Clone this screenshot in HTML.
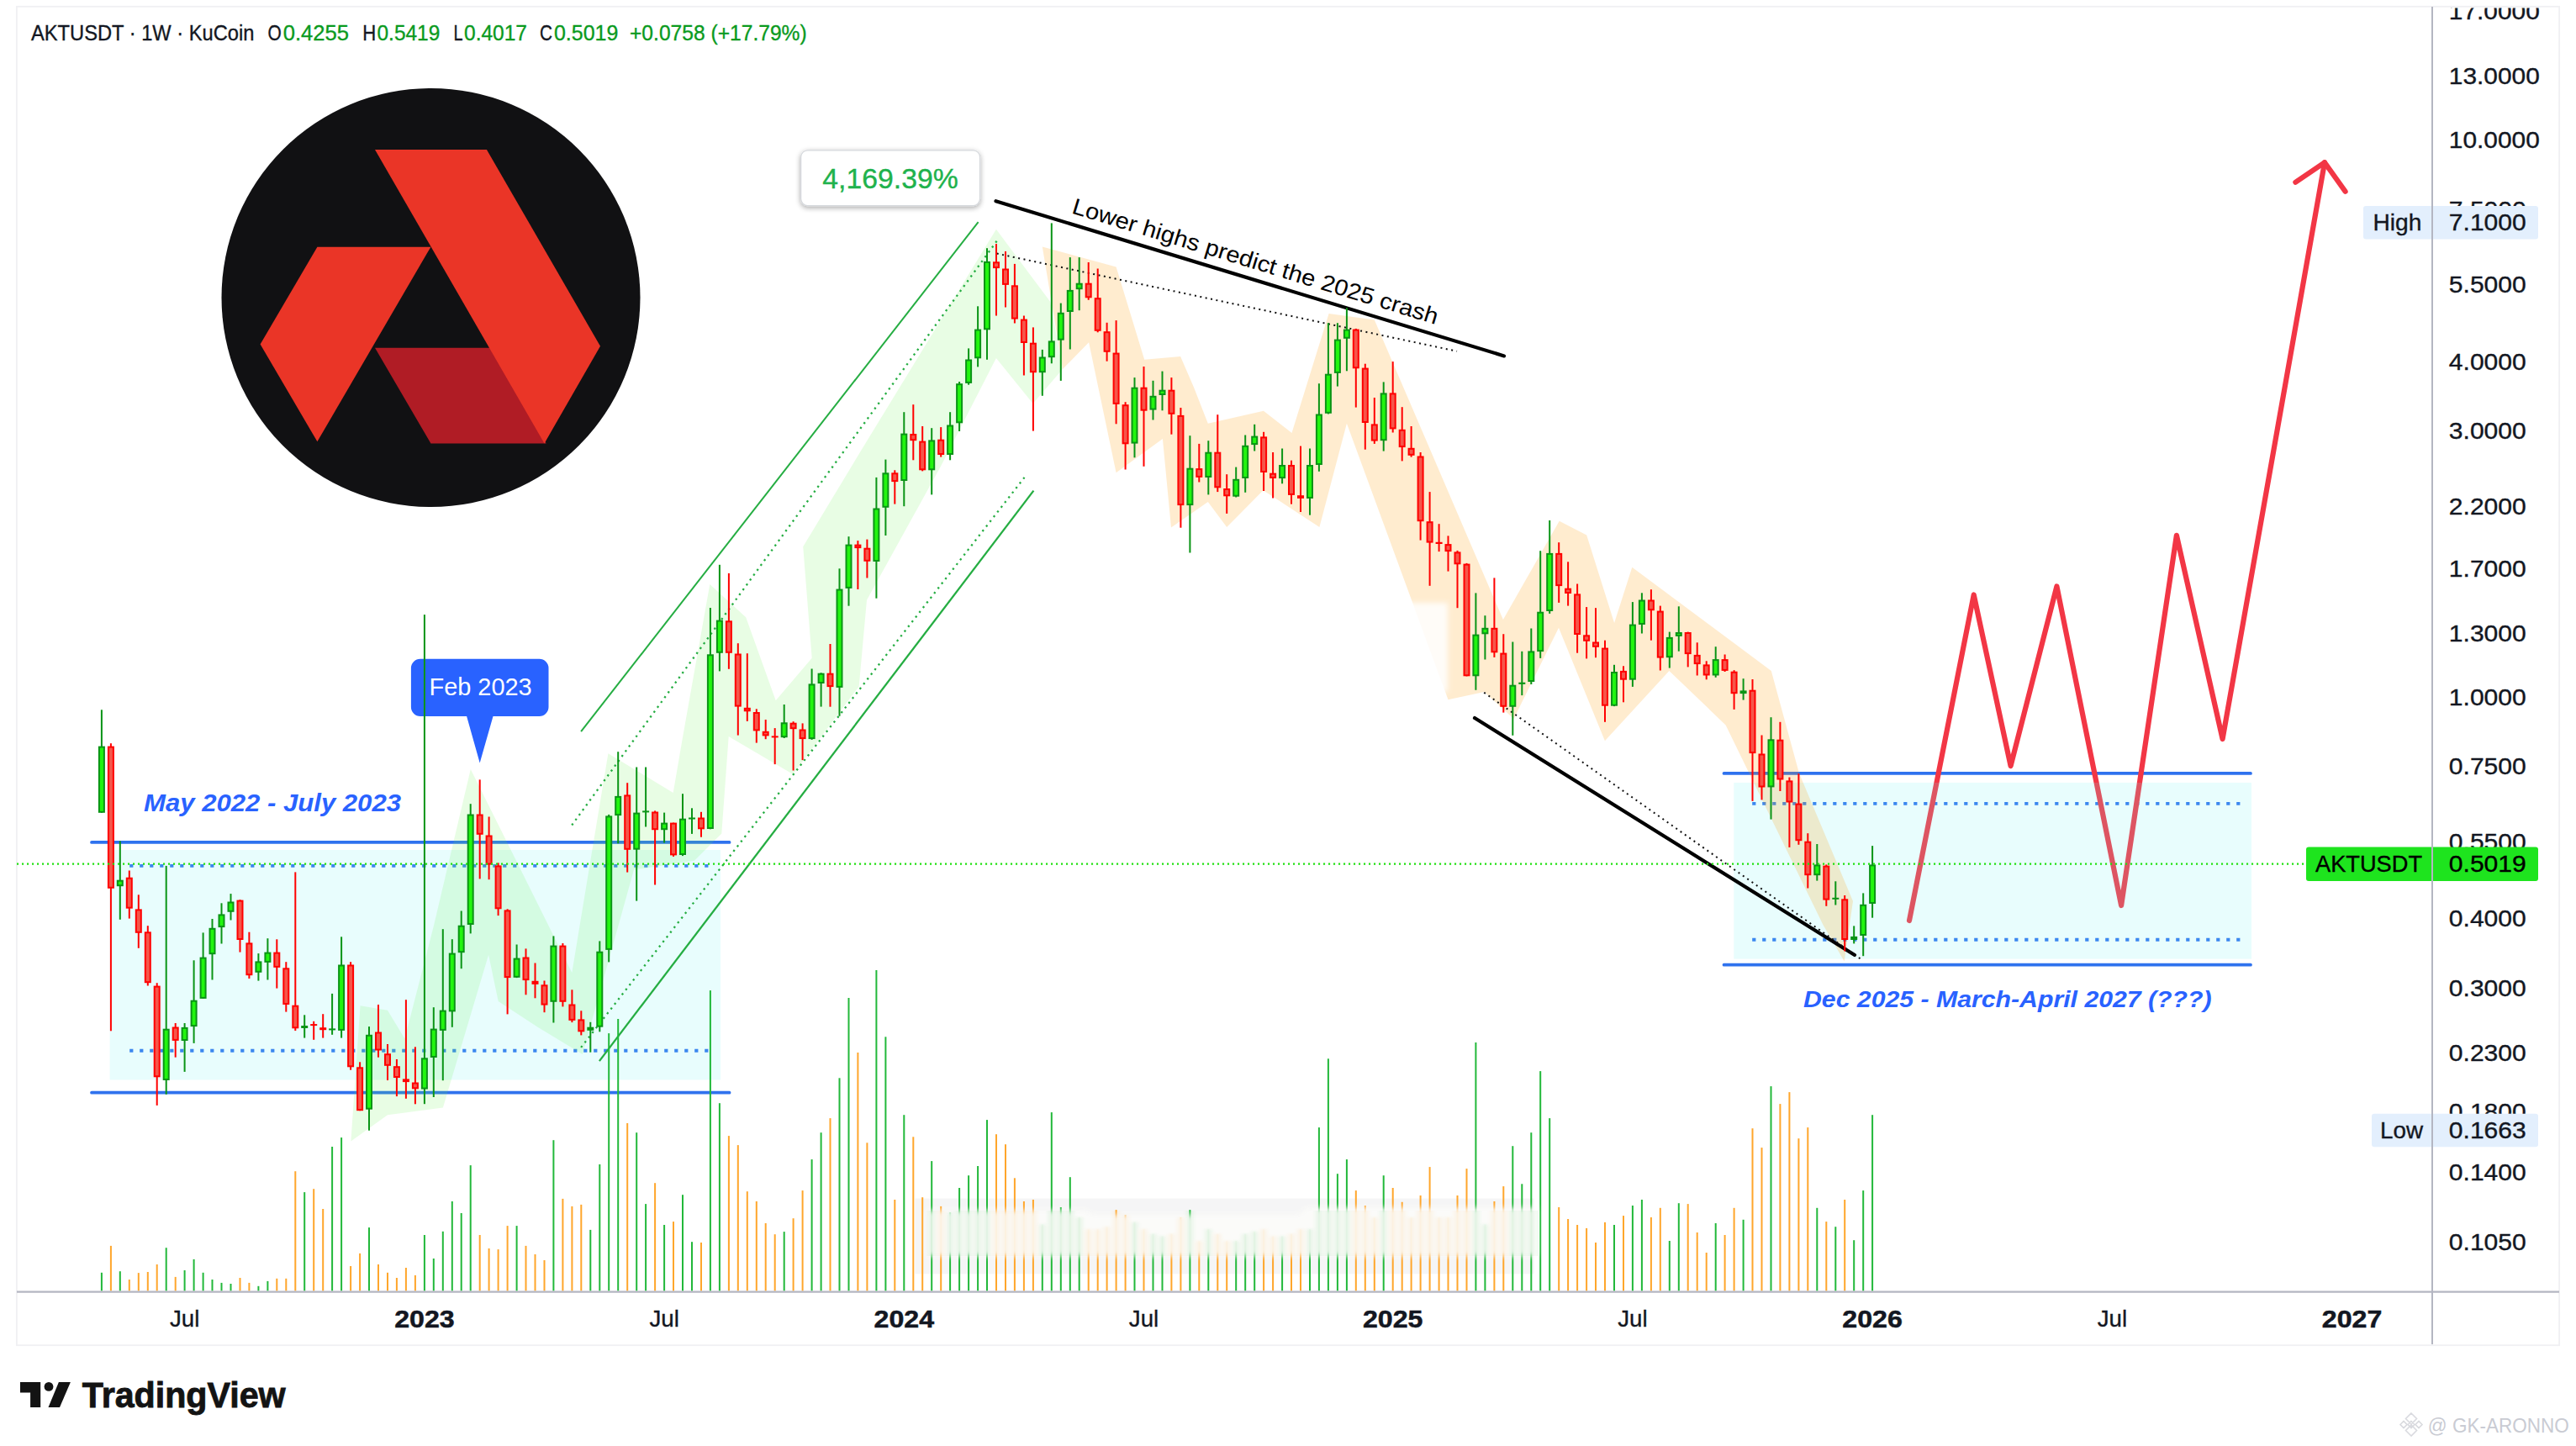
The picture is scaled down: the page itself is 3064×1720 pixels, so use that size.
<!DOCTYPE html>
<html lang="en"><head><meta charset="utf-8"><title>AKTUSDT 1W KuCoin chart</title>
<style>html,body{margin:0;padding:0;background:#fff;}body{width:3064px;height:1720px;overflow:hidden;}svg{display:block;font-family:"Liberation Sans", sans-serif;}</style>
</head><body>
<svg width="3064" height="1720" viewBox="0 0 3064 1720">
<defs><filter id="sh" x="-10%" y="-20%" width="120%" height="150%"><feGaussianBlur in="SourceAlpha" stdDeviation="3"/><feOffset dy="2"/><feComponentTransfer><feFuncA type="linear" slope="0.35"/></feComponentTransfer><feMerge><feMergeNode/><feMergeNode in="SourceGraphic"/></feMerge></filter>
<filter id="blur"><feGaussianBlur stdDeviation="3 1.5"/></filter>
<filter id="blur3" x="-30%" y="-20%" width="160%" height="140%"><feGaussianBlur stdDeviation="3"/></filter>
<filter id="blur2" x="-20%" y="-20%" width="140%" height="140%"><feGaussianBlur stdDeviation="4"/></filter>
<clipPath id="smc"><rect x="1100" y="1440" width="730" height="54"/></clipPath>
</defs>
<rect width="3064" height="1720" fill="#fff"/>
<rect x="19.9" y="7.8" width="3024.2" height="1592.4" fill="none" stroke="#f0f0f3" stroke-width="1.8"/>
<rect x="1088.4" y="1425.6" width="736.3" height="89.6" fill="#f5f5f6"/>
<line x1="109.0" y1="1001.9" x2="867.6" y2="1001.9" stroke="#2f72ee" stroke-width="3.7" stroke-linecap="round"/>
<line x1="109.0" y1="1299.7" x2="867.6" y2="1299.7" stroke="#2f72ee" stroke-width="3.7" stroke-linecap="round"/>
<line x1="2050.5" y1="919.9" x2="2677.0" y2="919.9" stroke="#2f72ee" stroke-width="3.7" stroke-linecap="round"/>
<line x1="2050.5" y1="1147.7" x2="2677.0" y2="1147.7" stroke="#2f72ee" stroke-width="3.7" stroke-linecap="round"/>
<line x1="154.2" y1="1029.9" x2="843.0" y2="1029.9" stroke="#2f72ee" stroke-width="3.9" stroke-dasharray="4.2 7.8"/>
<line x1="154.2" y1="1249.8" x2="843.0" y2="1249.8" stroke="#2f72ee" stroke-width="3.9" stroke-dasharray="4.2 7.8"/>
<line x1="2084.2" y1="955.9" x2="2666.0" y2="955.9" stroke="#2f72ee" stroke-width="3.9" stroke-dasharray="4.2 7.8"/>
<line x1="2084.2" y1="1117.8" x2="2666.0" y2="1117.8" stroke="#2f72ee" stroke-width="3.9" stroke-dasharray="4.2 7.8"/>
<polyline points="2271.0,1095.0 2347.7,707.5 2391.6,911.1 2446.4,697.4 2523.1,1077.0 2588.9,636.8 2643.6,879.0 2765.0,193.2" fill="none" stroke="#f23645" stroke-width="6.2" stroke-linejoin="round" stroke-linecap="round"/>
<polyline points="2730.4,216.7 2765.0,193.2 2789.6,227.8" fill="none" stroke="#f23645" stroke-width="6.2" stroke-linejoin="round" stroke-linecap="round"/>
<rect x="130.6" y="1011" width="726.4" height="273.5" fill="rgba(120,243,243,0.17)"/>
<rect x="2062.3" y="931" width="615.7" height="209.6" fill="rgba(120,243,243,0.17)"/>
<polygon points="428.5,1196.3 461.0,1201.7 481.4,1235.6 516.2,1100.0 559.8,914.9 680.3,1156.9 723.4,896.2 800.7,942.9 811.5,880.0 844.3,695.0 887.2,734.2 922.7,833.2 965.7,782.8 955.2,650.2 1021.7,540.0 1184.9,272.8 1249.1,358.7 1264.0,439.0 1228.6,480.0 1184.9,426.0 1118.8,555.0 1031.0,713.7 1021.7,816.4 943.2,921.0 866.7,876.1 858.3,991.5 825.9,1023.8 754.0,1034.6 692.9,1254.0 640.0,1222.0 592.7,1191.0 581.1,1135.8 526.9,1317.5 461.0,1326.2 417.4,1357.6" fill="rgba(100,240,75,0.15)"/>
<polygon points="1239.8,293.4 1327.6,317.6 1361.2,427.8 1404.1,424.1 1420.0,460.7 1436.8,503.7 1502.9,488.7 1536.5,514.9 1580.6,373.0 1634.8,380.4 1787.9,737.1 1854.7,619.8 1887.2,636.6 1920.1,741.1 1941.3,674.7 2106.8,797.9 2139.9,919.5 2204.0,1071.9 2193.7,1143.6 2168.4,1100.0 2052.6,862.5 1985.4,797.9 1908.9,881.2 1854.0,746.7 1800.5,855.0 1765.5,823.0 1722.5,832.3 1601.9,503.7 1569.4,626.9 1502.5,583.2 1459.2,626.9 1436.8,597.0 1393.0,627.5 1382.9,522.1 1327.6,562.3 1295.1,407.3 1264.0,439.0" fill="rgba(255,152,0,0.19)"/>
<rect x="1650" y="717" width="72" height="106" fill="#fff" opacity="0.86" filter="url(#blur3)"/>
<line x1="691.1" y1="870.2" x2="1163.6" y2="264.2" stroke="#25ad42" stroke-width="2.0" />
<line x1="712.9" y1="1262.1" x2="1229.4" y2="583.6" stroke="#25ad42" stroke-width="2.3" />
<line x1="680.2" y1="981.5" x2="1185.7" y2="286.6" stroke="#25ad42" stroke-width="2.3" stroke-dasharray="2.3 4.9"/>
<line x1="691.1" y1="1245.9" x2="1218.5" y2="567.9" stroke="#25ad42" stroke-width="2.3" stroke-dasharray="2.3 4.9"/>
<line x1="1184.5" y1="239.2" x2="1789.0" y2="423.4" stroke="#000" stroke-width="4.2" stroke-linecap="round"/>
<line x1="1185.7" y1="301.6" x2="1733.0" y2="417.8" stroke="#111" stroke-width="2.0" stroke-dasharray="2 4.5"/>
<line x1="1754.0" y1="854.0" x2="2206.0" y2="1136.0" stroke="#000" stroke-width="4.2" stroke-linecap="round"/>
<line x1="1765.2" y1="823.7" x2="2215.0" y2="1142.0" stroke="#111" stroke-width="2.0" stroke-dasharray="2 4.5"/>
<path d="M499.9,783.8 H641.5 a11,11 0 0 1 11,11 V840.9 a11,11 0 0 1 -11,11 H586.5 L570.7,907.6 L555.1,851.9 H499.9 a11,11 0 0 1 -11,-11 V794.8 a11,11 0 0 1 11,-11 Z" fill="#2962ff"/>
<text x="510.5" y="826.7" font-size="28.6" fill="#fff" textLength="122.2" lengthAdjust="spacingAndGlyphs" >Feb 2023</text>
<g><rect x="119.9" y="844.3" width="2" height="122.5" fill="#0a9416"/><rect x="117.9" y="888.6" width="6" height="77.2" fill="#22f50f" stroke="#0a9416" stroke-width="2"/><rect x="130.9" y="884.2" width="2" height="342.1" fill="#ff0000"/><rect x="128.9" y="888.6" width="6" height="167.2" fill="#f5564a" stroke="#ff0000" stroke-width="2"/><rect x="141.8" y="1000.4" width="2" height="93.4" fill="#0a9416"/><rect x="139.8" y="1047.7" width="6" height="5.5" fill="#22f50f" stroke="#0a9416" stroke-width="2"/><rect x="152.8" y="1035.5" width="2" height="57.1" fill="#ff0000"/><rect x="150.8" y="1044.7" width="6" height="35.0" fill="#f5564a" stroke="#ff0000" stroke-width="2"/><rect x="163.8" y="1064.3" width="2" height="63.5" fill="#ff0000"/><rect x="161.8" y="1082.4" width="6" height="26.4" fill="#f5564a" stroke="#ff0000" stroke-width="2"/><rect x="174.8" y="1101.2" width="2" height="71.3" fill="#ff0000"/><rect x="172.8" y="1109.3" width="6" height="58.9" fill="#f5564a" stroke="#ff0000" stroke-width="2"/><rect x="185.7" y="1169.2" width="2" height="145.7" fill="#ff0000"/><rect x="183.7" y="1173.6" width="6" height="106.7" fill="#f5564a" stroke="#ff0000" stroke-width="2"/><rect x="196.7" y="1029.9" width="2" height="271.9" fill="#0a9416"/><rect x="194.7" y="1224.7" width="6" height="59.3" fill="#22f50f" stroke="#0a9416" stroke-width="2"/><rect x="207.7" y="1217.0" width="2" height="40.7" fill="#ff0000"/><rect x="205.7" y="1222.5" width="6" height="14.4" fill="#f5564a" stroke="#ff0000" stroke-width="2"/><rect x="218.6" y="1217.0" width="2" height="57.9" fill="#0a9416"/><rect x="216.6" y="1222.9" width="6" height="14.1" fill="#22f50f" stroke="#0a9416" stroke-width="2"/><rect x="229.6" y="1142.3" width="2" height="98.6" fill="#0a9416"/><rect x="227.6" y="1190.7" width="6" height="29.4" fill="#22f50f" stroke="#0a9416" stroke-width="2"/><rect x="240.6" y="1109.4" width="2" height="78.4" fill="#0a9416"/><rect x="238.6" y="1139.6" width="6" height="47.3" fill="#22f50f" stroke="#0a9416" stroke-width="2"/><rect x="251.5" y="1093.0" width="2" height="72.5" fill="#0a9416"/><rect x="249.5" y="1104.8" width="6" height="29.4" fill="#22f50f" stroke="#0a9416" stroke-width="2"/><rect x="262.5" y="1074.3" width="2" height="48.2" fill="#0a9416"/><rect x="260.5" y="1088.4" width="6" height="13.7" fill="#22f50f" stroke="#0a9416" stroke-width="2"/><rect x="273.5" y="1063.1" width="2" height="31.4" fill="#0a9416"/><rect x="271.5" y="1073.5" width="6" height="10.3" fill="#22f50f" stroke="#0a9416" stroke-width="2"/><rect x="284.5" y="1070.2" width="2" height="62.4" fill="#ff0000"/><rect x="282.5" y="1071.6" width="6" height="45.4" fill="#f5564a" stroke="#ff0000" stroke-width="2"/><rect x="295.4" y="1108.7" width="2" height="55.3" fill="#ff0000"/><rect x="293.4" y="1122.4" width="6" height="36.8" fill="#f5564a" stroke="#ff0000" stroke-width="2"/><rect x="306.4" y="1134.1" width="2" height="32.5" fill="#0a9416"/><rect x="304.4" y="1144.4" width="6" height="11.4" fill="#22f50f" stroke="#0a9416" stroke-width="2"/><rect x="317.4" y="1116.2" width="2" height="49.3" fill="#0a9416"/><rect x="315.4" y="1133.6" width="6" height="10.3" fill="#22f50f" stroke="#0a9416" stroke-width="2"/><rect x="328.3" y="1117.3" width="2" height="58.3" fill="#ff0000"/><rect x="326.3" y="1133.6" width="6" height="16.3" fill="#f5564a" stroke="#ff0000" stroke-width="2"/><rect x="339.3" y="1144.2" width="2" height="59.4" fill="#ff0000"/><rect x="337.3" y="1152.3" width="6" height="41.7" fill="#f5564a" stroke="#ff0000" stroke-width="2"/><rect x="350.3" y="1037.4" width="2" height="188.6" fill="#ff0000"/><rect x="348.3" y="1196.7" width="6" height="25.6" fill="#f5564a" stroke="#ff0000" stroke-width="2"/><rect x="361.2" y="1207.3" width="2" height="27.3" fill="#0a9416"/><rect x="358.2" y="1220.0" width="8" height="3.0" fill="#0a9416"/><rect x="372.2" y="1214.8" width="2" height="22.0" fill="#ff0000"/><rect x="369.2" y="1218.1" width="8" height="2.0" fill="#ff0000"/><rect x="383.2" y="1206.2" width="2" height="28.4" fill="#ff0000"/><rect x="380.2" y="1222.2" width="8" height="3.0" fill="#ff0000"/><rect x="394.1" y="1181.9" width="2" height="48.9" fill="#0a9416"/><rect x="391.1" y="1223.4" width="8" height="2.0" fill="#0a9416"/><rect x="405.1" y="1114.3" width="2" height="120.3" fill="#0a9416"/><rect x="403.1" y="1148.5" width="6" height="76.4" fill="#22f50f" stroke="#0a9416" stroke-width="2"/><rect x="416.1" y="1144.2" width="2" height="128.5" fill="#ff0000"/><rect x="414.1" y="1148.5" width="6" height="119.8" fill="#f5564a" stroke="#ff0000" stroke-width="2"/><rect x="427.1" y="1263.3" width="2" height="57.9" fill="#ff0000"/><rect x="425.1" y="1270.3" width="6" height="49.9" fill="#f5564a" stroke="#ff0000" stroke-width="2"/><rect x="438.0" y="1221.1" width="2" height="123.6" fill="#0a9416"/><rect x="436.0" y="1231.8" width="6" height="86.9" fill="#22f50f" stroke="#0a9416" stroke-width="2"/><rect x="449.0" y="1195.0" width="2" height="62.7" fill="#ff0000"/><rect x="447.0" y="1228.5" width="6" height="20.0" fill="#f5564a" stroke="#ff0000" stroke-width="2"/><rect x="460.0" y="1242.0" width="2" height="43.0" fill="#ff0000"/><rect x="458.0" y="1254.2" width="6" height="12.6" fill="#f5564a" stroke="#ff0000" stroke-width="2"/><rect x="470.9" y="1260.0" width="2" height="44.1" fill="#ff0000"/><rect x="468.9" y="1269.2" width="6" height="11.8" fill="#f5564a" stroke="#ff0000" stroke-width="2"/><rect x="481.9" y="1189.2" width="2" height="117.6" fill="#ff0000"/><rect x="478.9" y="1283.4" width="8" height="3.7" fill="#ff0000"/><rect x="492.9" y="1245.3" width="2" height="68.0" fill="#ff0000"/><rect x="490.9" y="1288.5" width="6" height="5.8" fill="#f5564a" stroke="#ff0000" stroke-width="2"/><rect x="503.9" y="731.1" width="2" height="582.1" fill="#0a9416"/><rect x="501.9" y="1259.3" width="6" height="35.3" fill="#22f50f" stroke="#0a9416" stroke-width="2"/><rect x="514.8" y="1198.2" width="2" height="106.8" fill="#0a9416"/><rect x="512.8" y="1224.6" width="6" height="32.4" fill="#22f50f" stroke="#0a9416" stroke-width="2"/><rect x="525.8" y="1105.2" width="2" height="180.0" fill="#0a9416"/><rect x="523.8" y="1202.6" width="6" height="22.3" fill="#22f50f" stroke="#0a9416" stroke-width="2"/><rect x="536.8" y="1117.2" width="2" height="104.6" fill="#0a9416"/><rect x="534.8" y="1134.6" width="6" height="67.8" fill="#22f50f" stroke="#0a9416" stroke-width="2"/><rect x="547.7" y="1083.5" width="2" height="68.7" fill="#0a9416"/><rect x="545.7" y="1101.7" width="6" height="30.5" fill="#22f50f" stroke="#0a9416" stroke-width="2"/><rect x="558.7" y="956.2" width="2" height="154.2" fill="#0a9416"/><rect x="556.7" y="969.5" width="6" height="129.5" fill="#22f50f" stroke="#0a9416" stroke-width="2"/><rect x="569.7" y="927.4" width="2" height="118.0" fill="#ff0000"/><rect x="567.7" y="969.5" width="6" height="22.3" fill="#f5564a" stroke="#ff0000" stroke-width="2"/><rect x="580.6" y="971.5" width="2" height="74.7" fill="#ff0000"/><rect x="578.6" y="994.5" width="6" height="33.1" fill="#f5564a" stroke="#ff0000" stroke-width="2"/><rect x="591.6" y="1026.4" width="2" height="62.7" fill="#ff0000"/><rect x="589.6" y="1030.4" width="6" height="49.9" fill="#f5564a" stroke="#ff0000" stroke-width="2"/><rect x="602.6" y="1081.3" width="2" height="125.1" fill="#ff0000"/><rect x="600.6" y="1083.4" width="6" height="78.7" fill="#f5564a" stroke="#ff0000" stroke-width="2"/><rect x="613.6" y="1123.5" width="2" height="39.6" fill="#0a9416"/><rect x="611.6" y="1140.6" width="6" height="21.2" fill="#22f50f" stroke="#0a9416" stroke-width="2"/><rect x="624.5" y="1128.4" width="2" height="54.9" fill="#ff0000"/><rect x="622.5" y="1139.5" width="6" height="25.6" fill="#f5564a" stroke="#ff0000" stroke-width="2"/><rect x="635.5" y="1145.5" width="2" height="41.8" fill="#ff0000"/><rect x="632.5" y="1166.8" width="8" height="4.1" fill="#ff0000"/><rect x="646.5" y="1166.5" width="2" height="37.7" fill="#ff0000"/><rect x="644.5" y="1172.3" width="6" height="22.3" fill="#f5564a" stroke="#ff0000" stroke-width="2"/><rect x="657.4" y="1113.4" width="2" height="103.1" fill="#0a9416"/><rect x="655.4" y="1125.6" width="6" height="65.2" fill="#22f50f" stroke="#0a9416" stroke-width="2"/><rect x="668.4" y="1122.0" width="2" height="75.4" fill="#ff0000"/><rect x="666.4" y="1125.6" width="6" height="65.2" fill="#f5564a" stroke="#ff0000" stroke-width="2"/><rect x="679.4" y="1177.3" width="2" height="38.8" fill="#ff0000"/><rect x="677.4" y="1195.5" width="6" height="17.4" fill="#f5564a" stroke="#ff0000" stroke-width="2"/><rect x="690.3" y="1202.3" width="2" height="29.1" fill="#ff0000"/><rect x="688.3" y="1213.4" width="6" height="12.9" fill="#f5564a" stroke="#ff0000" stroke-width="2"/><rect x="701.3" y="1215.8" width="2" height="35.9" fill="#0a9416"/><rect x="698.3" y="1221.7" width="8" height="4.1" fill="#0a9416"/><rect x="712.3" y="1119.4" width="2" height="107.9" fill="#0a9416"/><rect x="710.3" y="1132.7" width="6" height="88.0" fill="#22f50f" stroke="#0a9416" stroke-width="2"/><rect x="723.2" y="968.9" width="2" height="175.5" fill="#0a9416"/><rect x="721.2" y="971.4" width="6" height="157.5" fill="#22f50f" stroke="#0a9416" stroke-width="2"/><rect x="734.2" y="894.2" width="2" height="109.1" fill="#0a9416"/><rect x="732.2" y="947.9" width="6" height="21.2" fill="#22f50f" stroke="#0a9416" stroke-width="2"/><rect x="745.2" y="931.2" width="2" height="106.4" fill="#ff0000"/><rect x="743.2" y="946.4" width="6" height="63.4" fill="#f5564a" stroke="#ff0000" stroke-width="2"/><rect x="756.2" y="912.5" width="2" height="159.1" fill="#0a9416"/><rect x="754.2" y="967.6" width="6" height="42.1" fill="#22f50f" stroke="#0a9416" stroke-width="2"/><rect x="767.1" y="912.5" width="2" height="71.0" fill="#0a9416"/><rect x="764.1" y="964.4" width="8" height="2.0" fill="#0a9416"/><rect x="778.1" y="964.4" width="2" height="88.1" fill="#ff0000"/><rect x="776.1" y="966.5" width="6" height="19.7" fill="#f5564a" stroke="#ff0000" stroke-width="2"/><rect x="789.1" y="966.6" width="2" height="35.9" fill="#0a9416"/><rect x="787.1" y="979.6" width="6" height="6.6" fill="#22f50f" stroke="#0a9416" stroke-width="2"/><rect x="800.0" y="978.6" width="2" height="40.3" fill="#ff0000"/><rect x="798.0" y="979.6" width="6" height="36.8" fill="#f5564a" stroke="#ff0000" stroke-width="2"/><rect x="811.0" y="944.2" width="2" height="73.9" fill="#0a9416"/><rect x="809.0" y="974.7" width="6" height="41.3" fill="#22f50f" stroke="#0a9416" stroke-width="2"/><rect x="822.0" y="961.3" width="2" height="30.6" fill="#0a9416"/><rect x="819.0" y="972.5" width="8" height="2.0" fill="#0a9416"/><rect x="833.0" y="965.8" width="2" height="29.9" fill="#ff0000"/><rect x="831.0" y="973.5" width="6" height="11.8" fill="#f5564a" stroke="#ff0000" stroke-width="2"/><rect x="843.9" y="723.0" width="2" height="263.3" fill="#0a9416"/><rect x="841.9" y="779.3" width="6" height="205.7" fill="#22f50f" stroke="#0a9416" stroke-width="2"/><rect x="854.9" y="671.8" width="2" height="126.6" fill="#0a9416"/><rect x="852.9" y="738.6" width="6" height="37.2" fill="#22f50f" stroke="#0a9416" stroke-width="2"/><rect x="865.9" y="681.9" width="2" height="113.9" fill="#ff0000"/><rect x="863.9" y="739.3" width="6" height="36.5" fill="#f5564a" stroke="#ff0000" stroke-width="2"/><rect x="876.8" y="765.2" width="2" height="109.4" fill="#ff0000"/><rect x="874.8" y="778.5" width="6" height="61.1" fill="#f5564a" stroke="#ff0000" stroke-width="2"/><rect x="887.8" y="777.2" width="2" height="80.7" fill="#ff0000"/><rect x="885.8" y="842.8" width="6" height="2.5" fill="#f5564a" stroke="#ff0000" stroke-width="2"/><rect x="898.8" y="843.3" width="2" height="40.3" fill="#ff0000"/><rect x="896.8" y="848.0" width="6" height="20.4" fill="#f5564a" stroke="#ff0000" stroke-width="2"/><rect x="909.7" y="856.0" width="2" height="23.2" fill="#ff0000"/><rect x="907.7" y="870.8" width="6" height="3.6" fill="#f5564a" stroke="#ff0000" stroke-width="2"/><rect x="920.7" y="866.1" width="2" height="43.0" fill="#ff0000"/><rect x="917.7" y="875.4" width="8" height="2.0" fill="#ff0000"/><rect x="931.7" y="838.0" width="2" height="40.0" fill="#0a9416"/><rect x="929.7" y="860.3" width="6" height="15.9" fill="#22f50f" stroke="#0a9416" stroke-width="2"/><rect x="942.6" y="858.2" width="2" height="58.3" fill="#ff0000"/><rect x="940.6" y="860.7" width="6" height="5.5" fill="#f5564a" stroke="#ff0000" stroke-width="2"/><rect x="953.6" y="860.4" width="2" height="43.7" fill="#ff0000"/><rect x="951.6" y="868.5" width="6" height="9.6" fill="#f5564a" stroke="#ff0000" stroke-width="2"/><rect x="964.6" y="795.5" width="2" height="84.4" fill="#0a9416"/><rect x="962.6" y="814.4" width="6" height="63.7" fill="#22f50f" stroke="#0a9416" stroke-width="2"/><rect x="975.6" y="800.3" width="2" height="40.3" fill="#0a9416"/><rect x="973.6" y="801.7" width="6" height="10.3" fill="#22f50f" stroke="#0a9416" stroke-width="2"/><rect x="986.5" y="766.0" width="2" height="74.7" fill="#ff0000"/><rect x="984.5" y="801.7" width="6" height="14.4" fill="#f5564a" stroke="#ff0000" stroke-width="2"/><rect x="997.5" y="676.3" width="2" height="175.5" fill="#0a9416"/><rect x="995.5" y="701.6" width="6" height="115.3" fill="#22f50f" stroke="#0a9416" stroke-width="2"/><rect x="1008.5" y="638.2" width="2" height="82.5" fill="#0a9416"/><rect x="1006.5" y="648.6" width="6" height="50.3" fill="#22f50f" stroke="#0a9416" stroke-width="2"/><rect x="1019.4" y="643.1" width="2" height="57.9" fill="#ff0000"/><rect x="1017.4" y="648.6" width="6" height="2.5" fill="#f5564a" stroke="#ff0000" stroke-width="2"/><rect x="1030.4" y="641.6" width="2" height="45.9" fill="#ff0000"/><rect x="1028.4" y="652.7" width="6" height="14.1" fill="#f5564a" stroke="#ff0000" stroke-width="2"/><rect x="1041.4" y="567.9" width="2" height="143.8" fill="#0a9416"/><rect x="1039.4" y="605.5" width="6" height="61.5" fill="#22f50f" stroke="#0a9416" stroke-width="2"/><rect x="1052.4" y="546.6" width="2" height="90.4" fill="#0a9416"/><rect x="1050.4" y="563.3" width="6" height="39.5" fill="#22f50f" stroke="#0a9416" stroke-width="2"/><rect x="1063.3" y="559.3" width="2" height="40.3" fill="#ff0000"/><rect x="1061.3" y="563.3" width="6" height="8.8" fill="#f5564a" stroke="#ff0000" stroke-width="2"/><rect x="1074.3" y="490.2" width="2" height="112.0" fill="#0a9416"/><rect x="1072.3" y="516.6" width="6" height="54.4" fill="#22f50f" stroke="#0a9416" stroke-width="2"/><rect x="1085.3" y="481.2" width="2" height="66.1" fill="#ff0000"/><rect x="1083.3" y="517.0" width="6" height="6.2" fill="#f5564a" stroke="#ff0000" stroke-width="2"/><rect x="1096.2" y="507.0" width="2" height="53.4" fill="#ff0000"/><rect x="1094.2" y="525.6" width="6" height="32.7" fill="#f5564a" stroke="#ff0000" stroke-width="2"/><rect x="1107.2" y="509.2" width="2" height="79.2" fill="#0a9416"/><rect x="1105.2" y="524.4" width="6" height="33.9" fill="#22f50f" stroke="#0a9416" stroke-width="2"/><rect x="1118.2" y="508.1" width="2" height="35.5" fill="#ff0000"/><rect x="1116.2" y="523.7" width="6" height="16.3" fill="#f5564a" stroke="#ff0000" stroke-width="2"/><rect x="1129.1" y="490.2" width="2" height="57.1" fill="#0a9416"/><rect x="1127.1" y="506.5" width="6" height="33.5" fill="#22f50f" stroke="#0a9416" stroke-width="2"/><rect x="1140.1" y="454.0" width="2" height="59.0" fill="#0a9416"/><rect x="1138.1" y="457.2" width="6" height="45.1" fill="#22f50f" stroke="#0a9416" stroke-width="2"/><rect x="1151.1" y="414.4" width="2" height="43.3" fill="#0a9416"/><rect x="1149.1" y="428.5" width="6" height="26.4" fill="#22f50f" stroke="#0a9416" stroke-width="2"/><rect x="1162.1" y="364.3" width="2" height="72.1" fill="#0a9416"/><rect x="1160.1" y="392.6" width="6" height="32.7" fill="#22f50f" stroke="#0a9416" stroke-width="2"/><rect x="1173.0" y="295.2" width="2" height="132.6" fill="#0a9416"/><rect x="1171.0" y="311.9" width="6" height="79.4" fill="#22f50f" stroke="#0a9416" stroke-width="2"/><rect x="1184.0" y="290.0" width="2" height="85.5" fill="#ff0000"/><rect x="1182.0" y="312.3" width="6" height="5.8" fill="#f5564a" stroke="#ff0000" stroke-width="2"/><rect x="1195.0" y="299.0" width="2" height="66.5" fill="#ff0000"/><rect x="1193.0" y="320.5" width="6" height="17.4" fill="#f5564a" stroke="#ff0000" stroke-width="2"/><rect x="1205.9" y="313.9" width="2" height="70.6" fill="#ff0000"/><rect x="1203.9" y="340.3" width="6" height="38.3" fill="#f5564a" stroke="#ff0000" stroke-width="2"/><rect x="1216.9" y="375.5" width="2" height="71.0" fill="#ff0000"/><rect x="1214.9" y="380.6" width="6" height="26.4" fill="#f5564a" stroke="#ff0000" stroke-width="2"/><rect x="1227.9" y="389.4" width="2" height="123.2" fill="#ff0000"/><rect x="1225.9" y="408.7" width="6" height="33.5" fill="#f5564a" stroke="#ff0000" stroke-width="2"/><rect x="1238.8" y="415.9" width="2" height="54.9" fill="#0a9416"/><rect x="1236.8" y="425.5" width="6" height="16.7" fill="#22f50f" stroke="#0a9416" stroke-width="2"/><rect x="1249.8" y="265.4" width="2" height="166.9" fill="#0a9416"/><rect x="1247.8" y="406.4" width="6" height="17.8" fill="#22f50f" stroke="#0a9416" stroke-width="2"/><rect x="1260.8" y="360.6" width="2" height="92.3" fill="#0a9416"/><rect x="1258.8" y="372.8" width="6" height="30.9" fill="#22f50f" stroke="#0a9416" stroke-width="2"/><rect x="1271.8" y="306.1" width="2" height="109.4" fill="#0a9416"/><rect x="1269.8" y="345.9" width="6" height="24.1" fill="#22f50f" stroke="#0a9416" stroke-width="2"/><rect x="1282.7" y="306.1" width="2" height="63.1" fill="#0a9416"/><rect x="1280.7" y="337.7" width="6" height="5.5" fill="#22f50f" stroke="#0a9416" stroke-width="2"/><rect x="1293.7" y="312.0" width="2" height="44.8" fill="#ff0000"/><rect x="1291.7" y="337.7" width="6" height="15.6" fill="#f5564a" stroke="#ff0000" stroke-width="2"/><rect x="1304.7" y="319.5" width="2" height="75.8" fill="#ff0000"/><rect x="1302.7" y="355.2" width="6" height="37.6" fill="#f5564a" stroke="#ff0000" stroke-width="2"/><rect x="1315.6" y="383.8" width="2" height="45.9" fill="#ff0000"/><rect x="1313.6" y="395.2" width="6" height="22.6" fill="#f5564a" stroke="#ff0000" stroke-width="2"/><rect x="1326.6" y="381.1" width="2" height="123.2" fill="#ff0000"/><rect x="1324.6" y="420.6" width="6" height="59.3" fill="#f5564a" stroke="#ff0000" stroke-width="2"/><rect x="1337.6" y="478.2" width="2" height="80.3" fill="#ff0000"/><rect x="1335.6" y="482.2" width="6" height="45.1" fill="#f5564a" stroke="#ff0000" stroke-width="2"/><rect x="1348.5" y="449.1" width="2" height="95.2" fill="#0a9416"/><rect x="1346.5" y="461.7" width="6" height="64.9" fill="#22f50f" stroke="#0a9416" stroke-width="2"/><rect x="1359.5" y="436.0" width="2" height="118.8" fill="#ff0000"/><rect x="1357.5" y="461.7" width="6" height="26.0" fill="#f5564a" stroke="#ff0000" stroke-width="2"/><rect x="1370.5" y="452.8" width="2" height="46.7" fill="#0a9416"/><rect x="1368.5" y="471.8" width="6" height="14.8" fill="#22f50f" stroke="#0a9416" stroke-width="2"/><rect x="1381.5" y="441.6" width="2" height="46.7" fill="#0a9416"/><rect x="1379.5" y="464.7" width="6" height="4.3" fill="#22f50f" stroke="#0a9416" stroke-width="2"/><rect x="1392.4" y="449.1" width="2" height="67.6" fill="#ff0000"/><rect x="1390.4" y="464.7" width="6" height="27.1" fill="#f5564a" stroke="#ff0000" stroke-width="2"/><rect x="1403.4" y="485.0" width="2" height="142.7" fill="#ff0000"/><rect x="1401.4" y="494.9" width="6" height="105.2" fill="#f5564a" stroke="#ff0000" stroke-width="2"/><rect x="1414.4" y="518.2" width="2" height="139.3" fill="#0a9416"/><rect x="1412.4" y="557.7" width="6" height="42.4" fill="#22f50f" stroke="#0a9416" stroke-width="2"/><rect x="1425.3" y="527.9" width="2" height="45.6" fill="#ff0000"/><rect x="1423.3" y="558.1" width="6" height="8.8" fill="#f5564a" stroke="#ff0000" stroke-width="2"/><rect x="1436.3" y="524.2" width="2" height="64.2" fill="#0a9416"/><rect x="1434.3" y="538.7" width="6" height="28.3" fill="#22f50f" stroke="#0a9416" stroke-width="2"/><rect x="1447.3" y="493.2" width="2" height="91.9" fill="#ff0000"/><rect x="1445.3" y="538.7" width="6" height="40.6" fill="#f5564a" stroke="#ff0000" stroke-width="2"/><rect x="1458.2" y="564.2" width="2" height="46.7" fill="#ff0000"/><rect x="1456.2" y="582.0" width="6" height="7.3" fill="#f5564a" stroke="#ff0000" stroke-width="2"/><rect x="1469.2" y="555.6" width="2" height="35.9" fill="#0a9416"/><rect x="1467.2" y="570.8" width="6" height="18.9" fill="#22f50f" stroke="#0a9416" stroke-width="2"/><rect x="1480.2" y="517.5" width="2" height="68.3" fill="#0a9416"/><rect x="1478.2" y="530.8" width="6" height="37.2" fill="#22f50f" stroke="#0a9416" stroke-width="2"/><rect x="1491.2" y="504.8" width="2" height="31.7" fill="#0a9416"/><rect x="1489.2" y="519.6" width="6" height="8.5" fill="#22f50f" stroke="#0a9416" stroke-width="2"/><rect x="1502.1" y="513.8" width="2" height="70.2" fill="#ff0000"/><rect x="1500.1" y="520.4" width="6" height="40.6" fill="#f5564a" stroke="#ff0000" stroke-width="2"/><rect x="1513.1" y="538.0" width="2" height="54.5" fill="#ff0000"/><rect x="1511.1" y="563.7" width="6" height="4.3" fill="#f5564a" stroke="#ff0000" stroke-width="2"/><rect x="1524.1" y="533.5" width="2" height="41.8" fill="#0a9416"/><rect x="1522.1" y="554.0" width="6" height="14.1" fill="#22f50f" stroke="#0a9416" stroke-width="2"/><rect x="1535.0" y="547.7" width="2" height="51.9" fill="#ff0000"/><rect x="1533.0" y="554.0" width="6" height="33.9" fill="#f5564a" stroke="#ff0000" stroke-width="2"/><rect x="1546.0" y="530.6" width="2" height="78.4" fill="#ff0000"/><rect x="1543.0" y="589.2" width="8" height="3.7" fill="#ff0000"/><rect x="1557.0" y="533.5" width="2" height="79.2" fill="#0a9416"/><rect x="1555.0" y="554.0" width="6" height="38.0" fill="#22f50f" stroke="#0a9416" stroke-width="2"/><rect x="1567.9" y="456.2" width="2" height="104.6" fill="#0a9416"/><rect x="1565.9" y="493.5" width="6" height="58.5" fill="#22f50f" stroke="#0a9416" stroke-width="2"/><rect x="1578.9" y="384.2" width="2" height="108.3" fill="#0a9416"/><rect x="1576.9" y="445.7" width="6" height="45.1" fill="#22f50f" stroke="#0a9416" stroke-width="2"/><rect x="1589.9" y="384.2" width="2" height="75.4" fill="#0a9416"/><rect x="1587.9" y="404.6" width="6" height="38.3" fill="#22f50f" stroke="#0a9416" stroke-width="2"/><rect x="1600.9" y="366.2" width="2" height="75.1" fill="#0a9416"/><rect x="1598.9" y="392.6" width="6" height="9.2" fill="#22f50f" stroke="#0a9416" stroke-width="2"/><rect x="1611.8" y="390.9" width="2" height="93.7" fill="#ff0000"/><rect x="1609.8" y="392.6" width="6" height="44.7" fill="#f5564a" stroke="#ff0000" stroke-width="2"/><rect x="1622.8" y="432.7" width="2" height="102.0" fill="#ff0000"/><rect x="1620.8" y="438.6" width="6" height="63.4" fill="#f5564a" stroke="#ff0000" stroke-width="2"/><rect x="1633.8" y="473.0" width="2" height="54.9" fill="#ff0000"/><rect x="1631.8" y="505.4" width="6" height="18.2" fill="#f5564a" stroke="#ff0000" stroke-width="2"/><rect x="1644.7" y="454.4" width="2" height="82.2" fill="#0a9416"/><rect x="1642.7" y="468.4" width="6" height="54.8" fill="#22f50f" stroke="#0a9416" stroke-width="2"/><rect x="1655.7" y="430.1" width="2" height="84.4" fill="#ff0000"/><rect x="1653.7" y="468.4" width="6" height="41.0" fill="#f5564a" stroke="#ff0000" stroke-width="2"/><rect x="1666.7" y="484.2" width="2" height="64.2" fill="#ff0000"/><rect x="1664.7" y="511.8" width="6" height="19.3" fill="#f5564a" stroke="#ff0000" stroke-width="2"/><rect x="1677.6" y="507.0" width="2" height="36.6" fill="#ff0000"/><rect x="1675.6" y="533.8" width="6" height="7.0" fill="#f5564a" stroke="#ff0000" stroke-width="2"/><rect x="1688.6" y="538.0" width="2" height="104.6" fill="#ff0000"/><rect x="1686.6" y="543.5" width="6" height="75.7" fill="#f5564a" stroke="#ff0000" stroke-width="2"/><rect x="1699.6" y="585.1" width="2" height="111.7" fill="#ff0000"/><rect x="1697.6" y="621.2" width="6" height="23.4" fill="#f5564a" stroke="#ff0000" stroke-width="2"/><rect x="1710.6" y="623.2" width="2" height="32.9" fill="#ff0000"/><rect x="1707.6" y="644.8" width="8" height="2.2" fill="#ff0000"/><rect x="1721.5" y="637.4" width="2" height="42.2" fill="#ff0000"/><rect x="1719.5" y="648.1" width="6" height="7.0" fill="#f5564a" stroke="#ff0000" stroke-width="2"/><rect x="1732.5" y="654.9" width="2" height="68.3" fill="#ff0000"/><rect x="1730.5" y="657.4" width="6" height="12.9" fill="#f5564a" stroke="#ff0000" stroke-width="2"/><rect x="1743.5" y="669.9" width="2" height="134.5" fill="#ff0000"/><rect x="1741.5" y="671.6" width="6" height="131.7" fill="#f5564a" stroke="#ff0000" stroke-width="2"/><rect x="1754.4" y="705.4" width="2" height="115.4" fill="#0a9416"/><rect x="1752.4" y="755.6" width="6" height="47.7" fill="#22f50f" stroke="#0a9416" stroke-width="2"/><rect x="1765.4" y="732.2" width="2" height="52.3" fill="#0a9416"/><rect x="1763.4" y="747.8" width="6" height="5.5" fill="#22f50f" stroke="#0a9416" stroke-width="2"/><rect x="1776.4" y="687.4" width="2" height="94.5" fill="#ff0000"/><rect x="1774.4" y="747.8" width="6" height="27.5" fill="#f5564a" stroke="#ff0000" stroke-width="2"/><rect x="1787.3" y="754.2" width="2" height="93.4" fill="#ff0000"/><rect x="1785.3" y="777.6" width="6" height="62.2" fill="#f5564a" stroke="#ff0000" stroke-width="2"/><rect x="1798.3" y="763.5" width="2" height="111.3" fill="#0a9416"/><rect x="1796.3" y="815.7" width="6" height="24.1" fill="#22f50f" stroke="#0a9416" stroke-width="2"/><rect x="1809.3" y="774.8" width="2" height="52.3" fill="#0a9416"/><rect x="1806.3" y="811.7" width="8" height="2.2" fill="#0a9416"/><rect x="1820.3" y="747.5" width="2" height="66.5" fill="#0a9416"/><rect x="1818.3" y="775.4" width="6" height="34.6" fill="#22f50f" stroke="#0a9416" stroke-width="2"/><rect x="1831.2" y="655.2" width="2" height="127.7" fill="#0a9416"/><rect x="1829.2" y="728.7" width="6" height="45.4" fill="#22f50f" stroke="#0a9416" stroke-width="2"/><rect x="1842.2" y="619.0" width="2" height="110.9" fill="#0a9416"/><rect x="1840.2" y="658.9" width="6" height="67.1" fill="#22f50f" stroke="#0a9416" stroke-width="2"/><rect x="1853.2" y="645.2" width="2" height="71.7" fill="#ff0000"/><rect x="1851.2" y="658.9" width="6" height="37.2" fill="#f5564a" stroke="#ff0000" stroke-width="2"/><rect x="1864.1" y="668.3" width="2" height="52.3" fill="#ff0000"/><rect x="1862.1" y="700.7" width="6" height="4.3" fill="#f5564a" stroke="#ff0000" stroke-width="2"/><rect x="1875.1" y="694.5" width="2" height="82.2" fill="#ff0000"/><rect x="1873.1" y="707.4" width="6" height="46.6" fill="#f5564a" stroke="#ff0000" stroke-width="2"/><rect x="1886.1" y="722.1" width="2" height="61.3" fill="#ff0000"/><rect x="1884.1" y="756.3" width="6" height="5.5" fill="#f5564a" stroke="#ff0000" stroke-width="2"/><rect x="1897.0" y="723.2" width="2" height="59.0" fill="#ff0000"/><rect x="1895.0" y="764.5" width="6" height="4.3" fill="#f5564a" stroke="#ff0000" stroke-width="2"/><rect x="1908.0" y="761.7" width="2" height="97.1" fill="#ff0000"/><rect x="1906.0" y="771.6" width="6" height="67.1" fill="#f5564a" stroke="#ff0000" stroke-width="2"/><rect x="1919.0" y="790.8" width="2" height="49.3" fill="#0a9416"/><rect x="1917.0" y="800.0" width="6" height="38.7" fill="#22f50f" stroke="#0a9416" stroke-width="2"/><rect x="1930.0" y="792.3" width="2" height="43.0" fill="#ff0000"/><rect x="1928.0" y="798.9" width="6" height="8.8" fill="#f5564a" stroke="#ff0000" stroke-width="2"/><rect x="1940.9" y="716.1" width="2" height="100.8" fill="#0a9416"/><rect x="1938.9" y="743.6" width="6" height="64.1" fill="#22f50f" stroke="#0a9416" stroke-width="2"/><rect x="1951.9" y="705.3" width="2" height="48.2" fill="#0a9416"/><rect x="1949.9" y="714.5" width="6" height="27.5" fill="#22f50f" stroke="#0a9416" stroke-width="2"/><rect x="1962.9" y="701.2" width="2" height="60.5" fill="#ff0000"/><rect x="1960.9" y="714.5" width="6" height="10.7" fill="#f5564a" stroke="#ff0000" stroke-width="2"/><rect x="1973.8" y="720.6" width="2" height="76.9" fill="#ff0000"/><rect x="1971.8" y="727.6" width="6" height="54.0" fill="#f5564a" stroke="#ff0000" stroke-width="2"/><rect x="1984.8" y="751.6" width="2" height="43.0" fill="#0a9416"/><rect x="1982.8" y="758.9" width="6" height="22.3" fill="#22f50f" stroke="#0a9416" stroke-width="2"/><rect x="1995.8" y="721.3" width="2" height="53.4" fill="#0a9416"/><rect x="1993.8" y="753.0" width="6" height="2.9" fill="#22f50f" stroke="#0a9416" stroke-width="2"/><rect x="2006.7" y="751.6" width="2" height="41.8" fill="#ff0000"/><rect x="2004.7" y="753.0" width="6" height="24.1" fill="#f5564a" stroke="#ff0000" stroke-width="2"/><rect x="2017.7" y="764.3" width="2" height="39.2" fill="#ff0000"/><rect x="2015.7" y="779.9" width="6" height="9.2" fill="#f5564a" stroke="#ff0000" stroke-width="2"/><rect x="2028.7" y="786.3" width="2" height="22.0" fill="#ff0000"/><rect x="2026.7" y="791.4" width="6" height="11.1" fill="#f5564a" stroke="#ff0000" stroke-width="2"/><rect x="2039.7" y="769.2" width="2" height="36.6" fill="#0a9416"/><rect x="2037.7" y="785.1" width="6" height="17.4" fill="#22f50f" stroke="#0a9416" stroke-width="2"/><rect x="2050.6" y="778.5" width="2" height="20.5" fill="#ff0000"/><rect x="2048.6" y="785.1" width="6" height="11.8" fill="#f5564a" stroke="#ff0000" stroke-width="2"/><rect x="2061.6" y="797.2" width="2" height="46.7" fill="#ff0000"/><rect x="2059.6" y="799.7" width="6" height="24.5" fill="#f5564a" stroke="#ff0000" stroke-width="2"/><rect x="2072.6" y="807.2" width="2" height="25.4" fill="#0a9416"/><rect x="2069.6" y="821.4" width="8" height="3.7" fill="#0a9416"/><rect x="2083.5" y="808.0" width="2" height="144.9" fill="#ff0000"/><rect x="2081.5" y="821.7" width="6" height="73.4" fill="#f5564a" stroke="#ff0000" stroke-width="2"/><rect x="2094.5" y="874.5" width="2" height="76.9" fill="#ff0000"/><rect x="2092.5" y="897.5" width="6" height="38.0" fill="#f5564a" stroke="#ff0000" stroke-width="2"/><rect x="2105.5" y="853.2" width="2" height="121.4" fill="#0a9416"/><rect x="2103.5" y="880.3" width="6" height="55.1" fill="#22f50f" stroke="#0a9416" stroke-width="2"/><rect x="2116.4" y="858.8" width="2" height="82.2" fill="#ff0000"/><rect x="2114.4" y="880.7" width="6" height="45.8" fill="#f5564a" stroke="#ff0000" stroke-width="2"/><rect x="2127.4" y="924.6" width="2" height="83.3" fill="#ff0000"/><rect x="2125.4" y="929.4" width="6" height="24.1" fill="#f5564a" stroke="#ff0000" stroke-width="2"/><rect x="2138.4" y="920.2" width="2" height="84.6" fill="#ff0000"/><rect x="2136.4" y="956.6" width="6" height="42.6" fill="#f5564a" stroke="#ff0000" stroke-width="2"/><rect x="2149.3" y="991.2" width="2" height="65.3" fill="#ff0000"/><rect x="2147.3" y="1001.7" width="6" height="38.5" fill="#f5564a" stroke="#ff0000" stroke-width="2"/><rect x="2160.3" y="1004.0" width="2" height="43.6" fill="#0a9416"/><rect x="2158.3" y="1029.4" width="6" height="10.8" fill="#22f50f" stroke="#0a9416" stroke-width="2"/><rect x="2171.3" y="1028.4" width="2" height="49.4" fill="#ff0000"/><rect x="2169.3" y="1030.6" width="6" height="39.0" fill="#f5564a" stroke="#ff0000" stroke-width="2"/><rect x="2182.3" y="1048.3" width="2" height="28.2" fill="#0a9416"/><rect x="2179.3" y="1067.8" width="8" height="2.0" fill="#0a9416"/><rect x="2193.2" y="1065.0" width="2" height="66.4" fill="#ff0000"/><rect x="2191.2" y="1070.3" width="6" height="46.7" fill="#f5564a" stroke="#ff0000" stroke-width="2"/><rect x="2204.2" y="1101.4" width="2" height="21.0" fill="#0a9416"/><rect x="2201.2" y="1113.9" width="8" height="4.1" fill="#0a9416"/><rect x="2215.2" y="1062.4" width="2" height="74.8" fill="#0a9416"/><rect x="2213.2" y="1076.8" width="6" height="35.2" fill="#22f50f" stroke="#0a9416" stroke-width="2"/><rect x="2226.1" y="1006.1" width="2" height="85.6" fill="#0a9416"/><rect x="2224.1" y="1029.4" width="6" height="44.6" fill="#22f50f" stroke="#0a9416" stroke-width="2"/></g>
<line x1="20.0" y1="1027.7" x2="2743.0" y2="1027.7" stroke="#1fe00f" stroke-width="2.2" stroke-dasharray="2.1 3.9"/>
<g><rect x="119.9" y="1513.8" width="2" height="21.7" fill="#22b83a"/><rect x="130.9" y="1481.9" width="2" height="53.6" fill="#ffa62b"/><rect x="141.8" y="1512.2" width="2" height="23.3" fill="#22b83a"/><rect x="152.8" y="1522.0" width="2" height="13.5" fill="#ffa62b"/><rect x="163.8" y="1514.1" width="2" height="21.4" fill="#ffa62b"/><rect x="174.8" y="1513.0" width="2" height="22.5" fill="#ffa62b"/><rect x="185.7" y="1504.0" width="2" height="31.5" fill="#ffa62b"/><rect x="196.7" y="1484.2" width="2" height="51.3" fill="#22b83a"/><rect x="207.7" y="1518.9" width="2" height="16.6" fill="#ffa62b"/><rect x="218.6" y="1511.0" width="2" height="24.5" fill="#22b83a"/><rect x="229.6" y="1497.9" width="2" height="37.6" fill="#22b83a"/><rect x="240.6" y="1513.8" width="2" height="21.7" fill="#22b83a"/><rect x="251.5" y="1522.0" width="2" height="13.5" fill="#22b83a"/><rect x="262.5" y="1525.9" width="2" height="9.6" fill="#22b83a"/><rect x="273.5" y="1527.0" width="2" height="8.5" fill="#22b83a"/><rect x="284.5" y="1520.0" width="2" height="15.5" fill="#ffa62b"/><rect x="295.4" y="1525.9" width="2" height="9.6" fill="#ffa62b"/><rect x="306.4" y="1529.8" width="2" height="5.7" fill="#22b83a"/><rect x="317.4" y="1523.9" width="2" height="11.6" fill="#22b83a"/><rect x="328.3" y="1520.8" width="2" height="14.7" fill="#ffa62b"/><rect x="339.3" y="1520.8" width="2" height="14.7" fill="#ffa62b"/><rect x="350.3" y="1393.2" width="2" height="142.3" fill="#ffa62b"/><rect x="361.2" y="1418.1" width="2" height="117.4" fill="#22b83a"/><rect x="372.2" y="1414.2" width="2" height="121.3" fill="#ffa62b"/><rect x="383.2" y="1438.0" width="2" height="97.5" fill="#ffa62b"/><rect x="394.1" y="1364.0" width="2" height="171.5" fill="#22b83a"/><rect x="405.1" y="1353.1" width="2" height="182.4" fill="#22b83a"/><rect x="416.1" y="1506.0" width="2" height="29.5" fill="#ffa62b"/><rect x="427.1" y="1490.9" width="2" height="44.6" fill="#ffa62b"/><rect x="438.0" y="1460.1" width="2" height="75.4" fill="#22b83a"/><rect x="449.0" y="1504.0" width="2" height="31.5" fill="#ffa62b"/><rect x="460.0" y="1513.8" width="2" height="21.7" fill="#ffa62b"/><rect x="470.9" y="1520.0" width="2" height="15.5" fill="#ffa62b"/><rect x="481.9" y="1508.0" width="2" height="27.5" fill="#ffa62b"/><rect x="492.9" y="1516.9" width="2" height="18.6" fill="#ffa62b"/><rect x="503.9" y="1469.0" width="2" height="66.5" fill="#22b83a"/><rect x="514.8" y="1497.0" width="2" height="38.5" fill="#22b83a"/><rect x="525.8" y="1464.8" width="2" height="70.7" fill="#22b83a"/><rect x="536.8" y="1429.0" width="2" height="106.5" fill="#22b83a"/><rect x="547.7" y="1443.0" width="2" height="92.5" fill="#22b83a"/><rect x="558.7" y="1386.1" width="2" height="149.4" fill="#22b83a"/><rect x="569.7" y="1469.0" width="2" height="66.5" fill="#ffa62b"/><rect x="580.6" y="1485.0" width="2" height="50.5" fill="#ffa62b"/><rect x="591.6" y="1486.1" width="2" height="49.4" fill="#ffa62b"/><rect x="602.6" y="1458.1" width="2" height="77.4" fill="#ffa62b"/><rect x="613.6" y="1458.1" width="2" height="77.4" fill="#22b83a"/><rect x="624.5" y="1481.9" width="2" height="53.6" fill="#ffa62b"/><rect x="635.5" y="1492.0" width="2" height="43.5" fill="#ffa62b"/><rect x="646.5" y="1499.0" width="2" height="36.5" fill="#ffa62b"/><rect x="657.4" y="1356.2" width="2" height="179.3" fill="#22b83a"/><rect x="668.4" y="1425.9" width="2" height="109.6" fill="#ffa62b"/><rect x="679.4" y="1434.9" width="2" height="100.6" fill="#ffa62b"/><rect x="690.3" y="1432.9" width="2" height="102.6" fill="#ffa62b"/><rect x="701.3" y="1462.9" width="2" height="72.6" fill="#22b83a"/><rect x="712.3" y="1385.0" width="2" height="150.5" fill="#22b83a"/><rect x="723.2" y="1229.1" width="2" height="306.4" fill="#22b83a"/><rect x="734.2" y="1212.0" width="2" height="323.5" fill="#22b83a"/><rect x="745.2" y="1336.0" width="2" height="199.5" fill="#ffa62b"/><rect x="756.2" y="1347.2" width="2" height="188.3" fill="#22b83a"/><rect x="767.1" y="1432.1" width="2" height="103.4" fill="#22b83a"/><rect x="778.1" y="1407.2" width="2" height="128.3" fill="#ffa62b"/><rect x="789.1" y="1457.0" width="2" height="78.5" fill="#22b83a"/><rect x="800.0" y="1453.1" width="2" height="82.4" fill="#ffa62b"/><rect x="811.0" y="1421.2" width="2" height="114.3" fill="#22b83a"/><rect x="822.0" y="1477.2" width="2" height="58.3" fill="#22b83a"/><rect x="833.0" y="1478.0" width="2" height="57.5" fill="#ffa62b"/><rect x="843.9" y="1178.1" width="2" height="357.4" fill="#22b83a"/><rect x="854.9" y="1312.2" width="2" height="223.3" fill="#22b83a"/><rect x="865.9" y="1351.1" width="2" height="184.4" fill="#ffa62b"/><rect x="876.8" y="1362.1" width="2" height="173.4" fill="#ffa62b"/><rect x="887.8" y="1417.2" width="2" height="118.3" fill="#ffa62b"/><rect x="898.8" y="1429.0" width="2" height="106.5" fill="#ffa62b"/><rect x="909.7" y="1455.0" width="2" height="80.5" fill="#ffa62b"/><rect x="920.7" y="1468.2" width="2" height="67.3" fill="#ffa62b"/><rect x="931.7" y="1465.1" width="2" height="70.4" fill="#22b83a"/><rect x="942.6" y="1449.2" width="2" height="86.3" fill="#ffa62b"/><rect x="953.6" y="1416.1" width="2" height="119.4" fill="#ffa62b"/><rect x="964.6" y="1379.1" width="2" height="156.4" fill="#22b83a"/><rect x="975.6" y="1347.2" width="2" height="188.3" fill="#22b83a"/><rect x="986.5" y="1330.1" width="2" height="205.4" fill="#ffa62b"/><rect x="997.5" y="1282.3" width="2" height="253.2" fill="#22b83a"/><rect x="1008.5" y="1187.0" width="2" height="348.5" fill="#22b83a"/><rect x="1019.4" y="1252.0" width="2" height="283.5" fill="#ffa62b"/><rect x="1030.4" y="1359.3" width="2" height="176.2" fill="#ffa62b"/><rect x="1041.4" y="1154.0" width="2" height="381.5" fill="#22b83a"/><rect x="1052.4" y="1233.3" width="2" height="302.2" fill="#22b83a"/><rect x="1063.3" y="1427.0" width="2" height="108.5" fill="#ffa62b"/><rect x="1074.3" y="1326.2" width="2" height="209.3" fill="#22b83a"/><rect x="1085.3" y="1352.3" width="2" height="183.2" fill="#ffa62b"/><rect x="1096.2" y="1424.2" width="2" height="111.3" fill="#ffa62b"/><rect x="1107.2" y="1381.1" width="2" height="154.4" fill="#22b83a"/><rect x="1118.2" y="1434.9" width="2" height="100.6" fill="#ffa62b"/><rect x="1129.1" y="1442.2" width="2" height="93.3" fill="#22b83a"/><rect x="1140.1" y="1413.0" width="2" height="122.5" fill="#22b83a"/><rect x="1151.1" y="1398.2" width="2" height="137.3" fill="#22b83a"/><rect x="1162.1" y="1387.0" width="2" height="148.5" fill="#22b83a"/><rect x="1173.0" y="1332.1" width="2" height="203.4" fill="#22b83a"/><rect x="1184.0" y="1349.2" width="2" height="186.3" fill="#ffa62b"/><rect x="1195.0" y="1361.2" width="2" height="174.3" fill="#ffa62b"/><rect x="1205.9" y="1401.3" width="2" height="134.2" fill="#ffa62b"/><rect x="1216.9" y="1429.0" width="2" height="106.5" fill="#ffa62b"/><rect x="1227.9" y="1427.0" width="2" height="108.5" fill="#ffa62b"/><rect x="1238.8" y="1456.4" width="2" height="79.1" fill="#22b83a"/><rect x="1249.8" y="1323.1" width="2" height="212.4" fill="#22b83a"/><rect x="1260.8" y="1436.0" width="2" height="99.5" fill="#22b83a"/><rect x="1271.8" y="1400.2" width="2" height="135.3" fill="#22b83a"/><rect x="1282.7" y="1448.0" width="2" height="87.5" fill="#22b83a"/><rect x="1293.7" y="1462.0" width="2" height="73.5" fill="#ffa62b"/><rect x="1304.7" y="1462.0" width="2" height="73.5" fill="#ffa62b"/><rect x="1315.6" y="1459.2" width="2" height="76.3" fill="#ffa62b"/><rect x="1326.6" y="1439.1" width="2" height="96.4" fill="#ffa62b"/><rect x="1337.6" y="1445.2" width="2" height="90.3" fill="#ffa62b"/><rect x="1348.5" y="1453.6" width="2" height="81.9" fill="#22b83a"/><rect x="1359.5" y="1462.0" width="2" height="73.5" fill="#ffa62b"/><rect x="1370.5" y="1467.6" width="2" height="67.9" fill="#22b83a"/><rect x="1381.5" y="1470.4" width="2" height="65.1" fill="#22b83a"/><rect x="1392.4" y="1467.6" width="2" height="67.9" fill="#ffa62b"/><rect x="1403.4" y="1448.0" width="2" height="87.5" fill="#ffa62b"/><rect x="1414.4" y="1439.1" width="2" height="96.4" fill="#22b83a"/><rect x="1425.3" y="1476.0" width="2" height="59.5" fill="#ffa62b"/><rect x="1436.3" y="1462.0" width="2" height="73.5" fill="#22b83a"/><rect x="1447.3" y="1467.6" width="2" height="67.9" fill="#ffa62b"/><rect x="1458.2" y="1476.0" width="2" height="59.5" fill="#ffa62b"/><rect x="1469.2" y="1476.0" width="2" height="59.5" fill="#22b83a"/><rect x="1480.2" y="1467.6" width="2" height="67.9" fill="#22b83a"/><rect x="1491.2" y="1464.8" width="2" height="70.7" fill="#22b83a"/><rect x="1502.1" y="1462.0" width="2" height="73.5" fill="#ffa62b"/><rect x="1513.1" y="1470.4" width="2" height="65.1" fill="#ffa62b"/><rect x="1524.1" y="1470.4" width="2" height="65.1" fill="#22b83a"/><rect x="1535.0" y="1467.6" width="2" height="67.9" fill="#ffa62b"/><rect x="1546.0" y="1462.0" width="2" height="73.5" fill="#ffa62b"/><rect x="1557.0" y="1462.0" width="2" height="73.5" fill="#22b83a"/><rect x="1567.9" y="1341.1" width="2" height="194.4" fill="#22b83a"/><rect x="1578.9" y="1259.3" width="2" height="276.2" fill="#22b83a"/><rect x="1589.9" y="1396.2" width="2" height="139.3" fill="#22b83a"/><rect x="1600.9" y="1379.1" width="2" height="156.4" fill="#22b83a"/><rect x="1611.8" y="1416.1" width="2" height="119.4" fill="#ffa62b"/><rect x="1622.8" y="1434.0" width="2" height="101.5" fill="#ffa62b"/><rect x="1633.8" y="1448.0" width="2" height="87.5" fill="#ffa62b"/><rect x="1644.7" y="1398.2" width="2" height="137.3" fill="#22b83a"/><rect x="1655.7" y="1413.0" width="2" height="122.5" fill="#ffa62b"/><rect x="1666.7" y="1429.8" width="2" height="105.7" fill="#ffa62b"/><rect x="1677.6" y="1448.0" width="2" height="87.5" fill="#ffa62b"/><rect x="1688.6" y="1422.0" width="2" height="113.5" fill="#ffa62b"/><rect x="1699.6" y="1388.1" width="2" height="147.4" fill="#ffa62b"/><rect x="1710.6" y="1448.0" width="2" height="87.5" fill="#ffa62b"/><rect x="1721.5" y="1448.0" width="2" height="87.5" fill="#ffa62b"/><rect x="1732.5" y="1422.0" width="2" height="113.5" fill="#ffa62b"/><rect x="1743.5" y="1390.1" width="2" height="145.4" fill="#ffa62b"/><rect x="1754.4" y="1240.0" width="2" height="295.5" fill="#22b83a"/><rect x="1765.4" y="1456.4" width="2" height="79.1" fill="#22b83a"/><rect x="1776.4" y="1429.0" width="2" height="106.5" fill="#ffa62b"/><rect x="1787.3" y="1411.1" width="2" height="124.4" fill="#ffa62b"/><rect x="1798.3" y="1363.2" width="2" height="172.3" fill="#22b83a"/><rect x="1809.3" y="1408.3" width="2" height="127.2" fill="#22b83a"/><rect x="1820.3" y="1347.2" width="2" height="188.3" fill="#22b83a"/><rect x="1831.2" y="1274.1" width="2" height="261.4" fill="#22b83a"/><rect x="1842.2" y="1330.1" width="2" height="205.4" fill="#22b83a"/><rect x="1853.2" y="1436.0" width="2" height="99.5" fill="#ffa62b"/><rect x="1864.1" y="1450.0" width="2" height="85.5" fill="#ffa62b"/><rect x="1875.1" y="1457.0" width="2" height="78.5" fill="#ffa62b"/><rect x="1886.1" y="1460.9" width="2" height="74.6" fill="#ffa62b"/><rect x="1897.0" y="1478.0" width="2" height="57.5" fill="#ffa62b"/><rect x="1908.0" y="1453.9" width="2" height="81.6" fill="#ffa62b"/><rect x="1919.0" y="1457.0" width="2" height="78.5" fill="#22b83a"/><rect x="1930.0" y="1446.1" width="2" height="89.4" fill="#ffa62b"/><rect x="1940.9" y="1434.0" width="2" height="101.5" fill="#22b83a"/><rect x="1951.9" y="1427.0" width="2" height="108.5" fill="#22b83a"/><rect x="1962.9" y="1448.0" width="2" height="87.5" fill="#ffa62b"/><rect x="1973.8" y="1436.8" width="2" height="98.7" fill="#ffa62b"/><rect x="1984.8" y="1476.0" width="2" height="59.5" fill="#22b83a"/><rect x="1995.8" y="1431.2" width="2" height="104.3" fill="#22b83a"/><rect x="2006.7" y="1432.1" width="2" height="103.4" fill="#ffa62b"/><rect x="2017.7" y="1466.0" width="2" height="69.5" fill="#ffa62b"/><rect x="2028.7" y="1490.0" width="2" height="45.5" fill="#ffa62b"/><rect x="2039.7" y="1455.0" width="2" height="80.5" fill="#22b83a"/><rect x="2050.6" y="1469.0" width="2" height="66.5" fill="#ffa62b"/><rect x="2061.6" y="1436.8" width="2" height="98.7" fill="#ffa62b"/><rect x="2072.6" y="1450.8" width="2" height="84.7" fill="#22b83a"/><rect x="2083.5" y="1342.2" width="2" height="193.3" fill="#ffa62b"/><rect x="2094.5" y="1365.1" width="2" height="170.4" fill="#ffa62b"/><rect x="2105.5" y="1292.1" width="2" height="243.4" fill="#22b83a"/><rect x="2116.4" y="1313.1" width="2" height="222.4" fill="#ffa62b"/><rect x="2127.4" y="1299.1" width="2" height="236.4" fill="#ffa62b"/><rect x="2138.4" y="1354.2" width="2" height="181.3" fill="#ffa62b"/><rect x="2149.3" y="1341.1" width="2" height="194.4" fill="#ffa62b"/><rect x="2160.3" y="1436.8" width="2" height="98.7" fill="#22b83a"/><rect x="2171.3" y="1453.1" width="2" height="82.4" fill="#ffa62b"/><rect x="2182.3" y="1459.2" width="2" height="76.3" fill="#22b83a"/><rect x="2193.2" y="1427.0" width="2" height="108.5" fill="#ffa62b"/><rect x="2204.2" y="1475.2" width="2" height="60.3" fill="#22b83a"/><rect x="2215.2" y="1416.1" width="2" height="119.4" fill="#22b83a"/><rect x="2226.1" y="1326.2" width="2" height="209.3" fill="#22b83a"/></g>
<path d="M1103,1440 H1290 L1300,1445 H1545 L1555,1437 H1828 V1494 H1103 Z" fill="#fcfcfa" opacity="0.96" filter="url(#blur3)"/>
<g clip-path="url(#smc)"><g filter="url(#blur)" opacity="0.33"><rect x="1107.2" y="1381.1" width="2" height="154.4" fill="#22b83a"/><rect x="1118.2" y="1434.9" width="2" height="100.6" fill="#ffa62b"/><rect x="1129.1" y="1442.2" width="2" height="93.3" fill="#22b83a"/><rect x="1140.1" y="1413.0" width="2" height="122.5" fill="#22b83a"/><rect x="1151.1" y="1398.2" width="2" height="137.3" fill="#22b83a"/><rect x="1162.1" y="1387.0" width="2" height="148.5" fill="#22b83a"/><rect x="1173.0" y="1332.1" width="2" height="203.4" fill="#22b83a"/><rect x="1184.0" y="1349.2" width="2" height="186.3" fill="#ffa62b"/><rect x="1195.0" y="1361.2" width="2" height="174.3" fill="#ffa62b"/><rect x="1205.9" y="1401.3" width="2" height="134.2" fill="#ffa62b"/><rect x="1216.9" y="1429.0" width="2" height="106.5" fill="#ffa62b"/><rect x="1227.9" y="1427.0" width="2" height="108.5" fill="#ffa62b"/><rect x="1238.8" y="1456.4" width="2" height="79.1" fill="#22b83a"/><rect x="1249.8" y="1323.1" width="2" height="212.4" fill="#22b83a"/><rect x="1260.8" y="1436.0" width="2" height="99.5" fill="#22b83a"/><rect x="1271.8" y="1400.2" width="2" height="135.3" fill="#22b83a"/><rect x="1282.7" y="1448.0" width="2" height="87.5" fill="#22b83a"/><rect x="1293.7" y="1462.0" width="2" height="73.5" fill="#ffa62b"/><rect x="1304.7" y="1462.0" width="2" height="73.5" fill="#ffa62b"/><rect x="1315.6" y="1459.2" width="2" height="76.3" fill="#ffa62b"/><rect x="1326.6" y="1439.1" width="2" height="96.4" fill="#ffa62b"/><rect x="1337.6" y="1445.2" width="2" height="90.3" fill="#ffa62b"/><rect x="1348.5" y="1453.6" width="2" height="81.9" fill="#22b83a"/><rect x="1359.5" y="1462.0" width="2" height="73.5" fill="#ffa62b"/><rect x="1370.5" y="1467.6" width="2" height="67.9" fill="#22b83a"/><rect x="1381.5" y="1470.4" width="2" height="65.1" fill="#22b83a"/><rect x="1392.4" y="1467.6" width="2" height="67.9" fill="#ffa62b"/><rect x="1403.4" y="1448.0" width="2" height="87.5" fill="#ffa62b"/><rect x="1414.4" y="1439.1" width="2" height="96.4" fill="#22b83a"/><rect x="1425.3" y="1476.0" width="2" height="59.5" fill="#ffa62b"/><rect x="1436.3" y="1462.0" width="2" height="73.5" fill="#22b83a"/><rect x="1447.3" y="1467.6" width="2" height="67.9" fill="#ffa62b"/><rect x="1458.2" y="1476.0" width="2" height="59.5" fill="#ffa62b"/><rect x="1469.2" y="1476.0" width="2" height="59.5" fill="#22b83a"/><rect x="1480.2" y="1467.6" width="2" height="67.9" fill="#22b83a"/><rect x="1491.2" y="1464.8" width="2" height="70.7" fill="#22b83a"/><rect x="1502.1" y="1462.0" width="2" height="73.5" fill="#ffa62b"/><rect x="1513.1" y="1470.4" width="2" height="65.1" fill="#ffa62b"/><rect x="1524.1" y="1470.4" width="2" height="65.1" fill="#22b83a"/><rect x="1535.0" y="1467.6" width="2" height="67.9" fill="#ffa62b"/><rect x="1546.0" y="1462.0" width="2" height="73.5" fill="#ffa62b"/><rect x="1557.0" y="1462.0" width="2" height="73.5" fill="#22b83a"/><rect x="1567.9" y="1341.1" width="2" height="194.4" fill="#22b83a"/><rect x="1578.9" y="1259.3" width="2" height="276.2" fill="#22b83a"/><rect x="1589.9" y="1396.2" width="2" height="139.3" fill="#22b83a"/><rect x="1600.9" y="1379.1" width="2" height="156.4" fill="#22b83a"/><rect x="1611.8" y="1416.1" width="2" height="119.4" fill="#ffa62b"/><rect x="1622.8" y="1434.0" width="2" height="101.5" fill="#ffa62b"/><rect x="1633.8" y="1448.0" width="2" height="87.5" fill="#ffa62b"/><rect x="1644.7" y="1398.2" width="2" height="137.3" fill="#22b83a"/><rect x="1655.7" y="1413.0" width="2" height="122.5" fill="#ffa62b"/><rect x="1666.7" y="1429.8" width="2" height="105.7" fill="#ffa62b"/><rect x="1677.6" y="1448.0" width="2" height="87.5" fill="#ffa62b"/><rect x="1688.6" y="1422.0" width="2" height="113.5" fill="#ffa62b"/><rect x="1699.6" y="1388.1" width="2" height="147.4" fill="#ffa62b"/><rect x="1710.6" y="1448.0" width="2" height="87.5" fill="#ffa62b"/><rect x="1721.5" y="1448.0" width="2" height="87.5" fill="#ffa62b"/><rect x="1732.5" y="1422.0" width="2" height="113.5" fill="#ffa62b"/><rect x="1743.5" y="1390.1" width="2" height="145.4" fill="#ffa62b"/><rect x="1754.4" y="1240.0" width="2" height="295.5" fill="#22b83a"/><rect x="1765.4" y="1456.4" width="2" height="79.1" fill="#22b83a"/><rect x="1776.4" y="1429.0" width="2" height="106.5" fill="#ffa62b"/><rect x="1787.3" y="1411.1" width="2" height="124.4" fill="#ffa62b"/><rect x="1798.3" y="1363.2" width="2" height="172.3" fill="#22b83a"/><rect x="1809.3" y="1408.3" width="2" height="127.2" fill="#22b83a"/><rect x="1820.3" y="1347.2" width="2" height="188.3" fill="#22b83a"/><rect x="1831.2" y="1274.1" width="2" height="261.4" fill="#22b83a"/></g></g>
<circle cx="512.5" cy="354" r="249" fill="#111113"/>
<polygon points="446.0,413.8 583.2,413.8 649.7,527.4 512.4,527.4" fill="#b01c25"/>
<polygon points="446.0,178.0 578.9,178.0 714.0,411.7 647.5,527.4" fill="#ea3527"/>
<polygon points="377.4,293.7 512.4,293.7 377.4,525.3 309.6,409.5" fill="#ea3527"/>
<text x="37.0" y="47.9" font-size="25.2" fill="#131722" textLength="265.4" lengthAdjust="spacingAndGlyphs" stroke="#131722" stroke-width="0.35" >AKTUSDT · 1W · KuCoin</text>
<text x="318.6" y="47.9" font-size="25.2" fill="#131722" textLength="16.2" lengthAdjust="spacingAndGlyphs" stroke="#131722" stroke-width="0.35" >O</text>
<text x="336.8" y="47.9" font-size="25.2" fill="#0a9a1e" textLength="78.2" lengthAdjust="spacingAndGlyphs" stroke="#0a9a1e" stroke-width="0.35" >0.4255</text>
<text x="431.2" y="47.9" font-size="25.2" fill="#131722" textLength="16.0" lengthAdjust="spacingAndGlyphs" stroke="#131722" stroke-width="0.35" >H</text>
<text x="448.5" y="47.9" font-size="25.2" fill="#0a9a1e" textLength="74.8" lengthAdjust="spacingAndGlyphs" stroke="#0a9a1e" stroke-width="0.35" >0.5419</text>
<text x="539.5" y="47.9" font-size="25.2" fill="#131722" textLength="11.0" lengthAdjust="spacingAndGlyphs" stroke="#131722" stroke-width="0.35" >L</text>
<text x="552.0" y="47.9" font-size="25.2" fill="#0a9a1e" textLength="75.0" lengthAdjust="spacingAndGlyphs" stroke="#0a9a1e" stroke-width="0.35" >0.4017</text>
<text x="642.0" y="47.9" font-size="25.2" fill="#131722" textLength="15.0" lengthAdjust="spacingAndGlyphs" stroke="#131722" stroke-width="0.35" >C</text>
<text x="659.0" y="47.9" font-size="25.2" fill="#0a9a1e" textLength="76.3" lengthAdjust="spacingAndGlyphs" stroke="#0a9a1e" stroke-width="0.35" >0.5019</text>
<text x="749.0" y="47.9" font-size="25.2" fill="#0a9a1e" textLength="210.7" lengthAdjust="spacingAndGlyphs" stroke="#0a9a1e" stroke-width="0.35" >+0.0758 (+17.79%)</text>
<text x="171.0" y="964.9" font-size="28.6" fill="#2962ff" font-weight="bold" font-style="italic" textLength="306.0" lengthAdjust="spacingAndGlyphs" >May 2022 - July 2023</text>
<text x="2145.0" y="1198.2" font-size="27.2" fill="#2962ff" font-weight="bold" font-style="italic" textLength="485.6" lengthAdjust="spacingAndGlyphs" >Dec 2025 - March-April 2027 (???)</text>
<rect x="952.7" y="178.8" width="212.8" height="65.8" rx="8" fill="#fff" stroke="#d5d8dc" stroke-width="1.2" filter="url(#sh)"/>
<text x="978.3" y="223.9" font-size="32.6" fill="#20b24c" textLength="161.4" lengthAdjust="spacingAndGlyphs" stroke="#20b24c" stroke-width="0.35" >4,169.39%</text>
<text transform="translate(1273.7,253.3) rotate(17)" font-size="27" fill="#000" textLength="453.5" lengthAdjust="spacingAndGlyphs">Lower highs predict the 2025 crash</text>
<rect x="2894" y="9.5" width="149" height="1526" fill="#fff"/>
<clipPath id="axc"><rect x="2894" y="9.5" width="150" height="1526"/></clipPath>
<g clip-path="url(#axc)">
<text x="2912.8" y="23.1" font-size="27.6" fill="#131722" textLength="108.0" lengthAdjust="spacingAndGlyphs" stroke="#131722" stroke-width="0.35" >17.0000</text>
<text x="2912.8" y="100.3" font-size="27.6" fill="#131722" textLength="108.0" lengthAdjust="spacingAndGlyphs" stroke="#131722" stroke-width="0.35" >13.0000</text>
<text x="2912.8" y="175.8" font-size="27.6" fill="#131722" textLength="108.0" lengthAdjust="spacingAndGlyphs" stroke="#131722" stroke-width="0.35" >10.0000</text>
<text x="2912.8" y="258.6" font-size="27.6" fill="#131722" textLength="92.0" lengthAdjust="spacingAndGlyphs" stroke="#131722" stroke-width="0.35" >7.5000</text>
<text x="2912.8" y="347.9" font-size="27.6" fill="#131722" textLength="92.0" lengthAdjust="spacingAndGlyphs" stroke="#131722" stroke-width="0.35" >5.5000</text>
<text x="2912.8" y="439.5" font-size="27.6" fill="#131722" textLength="92.0" lengthAdjust="spacingAndGlyphs" stroke="#131722" stroke-width="0.35" >4.0000</text>
<text x="2912.8" y="522.3" font-size="27.6" fill="#131722" textLength="92.0" lengthAdjust="spacingAndGlyphs" stroke="#131722" stroke-width="0.35" >3.0000</text>
<text x="2912.8" y="611.6" font-size="27.6" fill="#131722" textLength="92.0" lengthAdjust="spacingAndGlyphs" stroke="#131722" stroke-width="0.35" >2.2000</text>
<text x="2912.8" y="685.8" font-size="27.6" fill="#131722" textLength="92.0" lengthAdjust="spacingAndGlyphs" stroke="#131722" stroke-width="0.35" >1.7000</text>
<text x="2912.8" y="763.0" font-size="27.6" fill="#131722" textLength="92.0" lengthAdjust="spacingAndGlyphs" stroke="#131722" stroke-width="0.35" >1.3000</text>
<text x="2912.8" y="838.5" font-size="27.6" fill="#131722" textLength="92.0" lengthAdjust="spacingAndGlyphs" stroke="#131722" stroke-width="0.35" >1.0000</text>
<text x="2912.8" y="921.3" font-size="27.6" fill="#131722" textLength="92.0" lengthAdjust="spacingAndGlyphs" stroke="#131722" stroke-width="0.35" >0.7500</text>
<text x="2912.8" y="1010.5" font-size="27.6" fill="#131722" textLength="92.0" lengthAdjust="spacingAndGlyphs" stroke="#131722" stroke-width="0.35" >0.5500</text>
<text x="2912.8" y="1102.2" font-size="27.6" fill="#131722" textLength="92.0" lengthAdjust="spacingAndGlyphs" stroke="#131722" stroke-width="0.35" >0.4000</text>
<text x="2912.8" y="1185.0" font-size="27.6" fill="#131722" textLength="92.0" lengthAdjust="spacingAndGlyphs" stroke="#131722" stroke-width="0.35" >0.3000</text>
<text x="2912.8" y="1261.5" font-size="27.6" fill="#131722" textLength="92.0" lengthAdjust="spacingAndGlyphs" stroke="#131722" stroke-width="0.35" >0.2300</text>
<text x="2912.8" y="1332.0" font-size="27.6" fill="#131722" textLength="92.0" lengthAdjust="spacingAndGlyphs" stroke="#131722" stroke-width="0.35" >0.1800</text>
<text x="2912.8" y="1404.3" font-size="27.6" fill="#131722" textLength="92.0" lengthAdjust="spacingAndGlyphs" stroke="#131722" stroke-width="0.35" >0.1400</text>
<text x="2912.8" y="1487.1" font-size="27.6" fill="#131722" textLength="92.0" lengthAdjust="spacingAndGlyphs" stroke="#131722" stroke-width="0.35" >0.1050</text>
</g>
<rect x="2811" y="245" width="208" height="39.5" rx="3" fill="#e3effd"/>
<text x="2822.5" y="273.6" font-size="27.6" fill="#131722" textLength="58.0" lengthAdjust="spacingAndGlyphs" stroke="#131722" stroke-width="0.35" >High</text>
<text x="2912.8" y="273.6" font-size="27.6" fill="#131722" textLength="92.0" lengthAdjust="spacingAndGlyphs" stroke="#131722" stroke-width="0.35" >7.1000</text>
<rect x="2821" y="1324.8" width="198" height="39.5" rx="3" fill="#e3effd"/>
<text x="2831.0" y="1353.5" font-size="27.6" fill="#131722" textLength="51.0" lengthAdjust="spacingAndGlyphs" stroke="#131722" stroke-width="0.35" >Low</text>
<text x="2912.8" y="1353.5" font-size="27.6" fill="#131722" textLength="92.0" lengthAdjust="spacingAndGlyphs" stroke="#131722" stroke-width="0.35" >0.1663</text>
<rect x="2743" y="1007.5" width="276" height="40.5" rx="3" fill="#1ee41e"/>
<text x="2754.0" y="1036.8" font-size="27.6" fill="#000" textLength="127.0" lengthAdjust="spacingAndGlyphs" stroke="#000" stroke-width="0.35" >AKTUSDT</text>
<text x="2912.8" y="1036.8" font-size="27.6" fill="#000" textLength="92.0" lengthAdjust="spacingAndGlyphs" stroke="#000" stroke-width="0.35" >0.5019</text>
<line x1="2893" y1="8" x2="2893" y2="1599" stroke="#b4b6c2" stroke-width="2"/>
<line x1="20" y1="1536.6" x2="3044" y2="1536.6" stroke="#b4b6c2" stroke-width="2.4"/>
<text x="219.6" y="1578.3" font-size="27.6" fill="#131722" text-anchor="middle" textLength="35.4" lengthAdjust="spacingAndGlyphs" stroke="#131722" stroke-width="0.35" >Jul</text>
<text x="504.9" y="1578.6" font-size="29.4" fill="#131722" font-weight="bold" text-anchor="middle" textLength="71.5" lengthAdjust="spacingAndGlyphs" stroke="#131722" stroke-width="0.5">2023</text>
<text x="790.1" y="1578.3" font-size="27.6" fill="#131722" text-anchor="middle" textLength="35.4" lengthAdjust="spacingAndGlyphs" stroke="#131722" stroke-width="0.35" >Jul</text>
<text x="1075.3" y="1578.6" font-size="29.4" fill="#131722" font-weight="bold" text-anchor="middle" textLength="71.5" lengthAdjust="spacingAndGlyphs" stroke="#131722" stroke-width="0.5">2024</text>
<text x="1360.5" y="1578.3" font-size="27.6" fill="#131722" text-anchor="middle" textLength="35.4" lengthAdjust="spacingAndGlyphs" stroke="#131722" stroke-width="0.35" >Jul</text>
<text x="1656.7" y="1578.6" font-size="29.4" fill="#131722" font-weight="bold" text-anchor="middle" textLength="71.5" lengthAdjust="spacingAndGlyphs" stroke="#131722" stroke-width="0.5">2025</text>
<text x="1941.9" y="1578.3" font-size="27.6" fill="#131722" text-anchor="middle" textLength="35.4" lengthAdjust="spacingAndGlyphs" stroke="#131722" stroke-width="0.35" >Jul</text>
<text x="2227.1" y="1578.6" font-size="29.4" fill="#131722" font-weight="bold" text-anchor="middle" textLength="71.5" lengthAdjust="spacingAndGlyphs" stroke="#131722" stroke-width="0.5">2026</text>
<text x="2512.4" y="1578.3" font-size="27.6" fill="#131722" text-anchor="middle" textLength="35.4" lengthAdjust="spacingAndGlyphs" stroke="#131722" stroke-width="0.35" >Jul</text>
<text x="2797.6" y="1578.6" font-size="29.4" fill="#131722" font-weight="bold" text-anchor="middle" textLength="71.5" lengthAdjust="spacingAndGlyphs" stroke="#131722" stroke-width="0.5">2027</text>
<path d="M24,1644 H48.2 V1674 H36.1 V1656.6 H24 Z" fill="#131313"/>
<circle cx="58" cy="1649.4" r="5.4" fill="#131313"/>
<path d="M69.9,1644 H83.9 L71,1674 H57.5 Z" fill="#131313"/>
<text x="97.8" y="1674.0" font-size="42.6" fill="#131313" font-weight="bold" textLength="241.8" lengthAdjust="spacingAndGlyphs" stroke="#131313" stroke-width="0.9">TradingView</text>
<g fill="none" stroke="#d9dadf" stroke-width="1.6"><path d="M2868,1681 l6.5,6.5 l-6.5,6.5 l-6.5,-6.5 Z M2868,1708 l-6.5,-6.5 l6.5,-6.5 l6.5,6.5 Z M2855,1694.5 l4,-4 l4,4 l-4,4 Z M2881,1694.5 l-4,-4 l-4,4 l4,4 Z M2868,1690.5 l4,4 l-4,4 l-4,-4 Z"/></g>
<text x="2887.8" y="1703.8" font-size="24.4" fill="#c9cbd3" textLength="168.0" lengthAdjust="spacingAndGlyphs" >@ GK-ARONNO</text>
</svg></body></html>
